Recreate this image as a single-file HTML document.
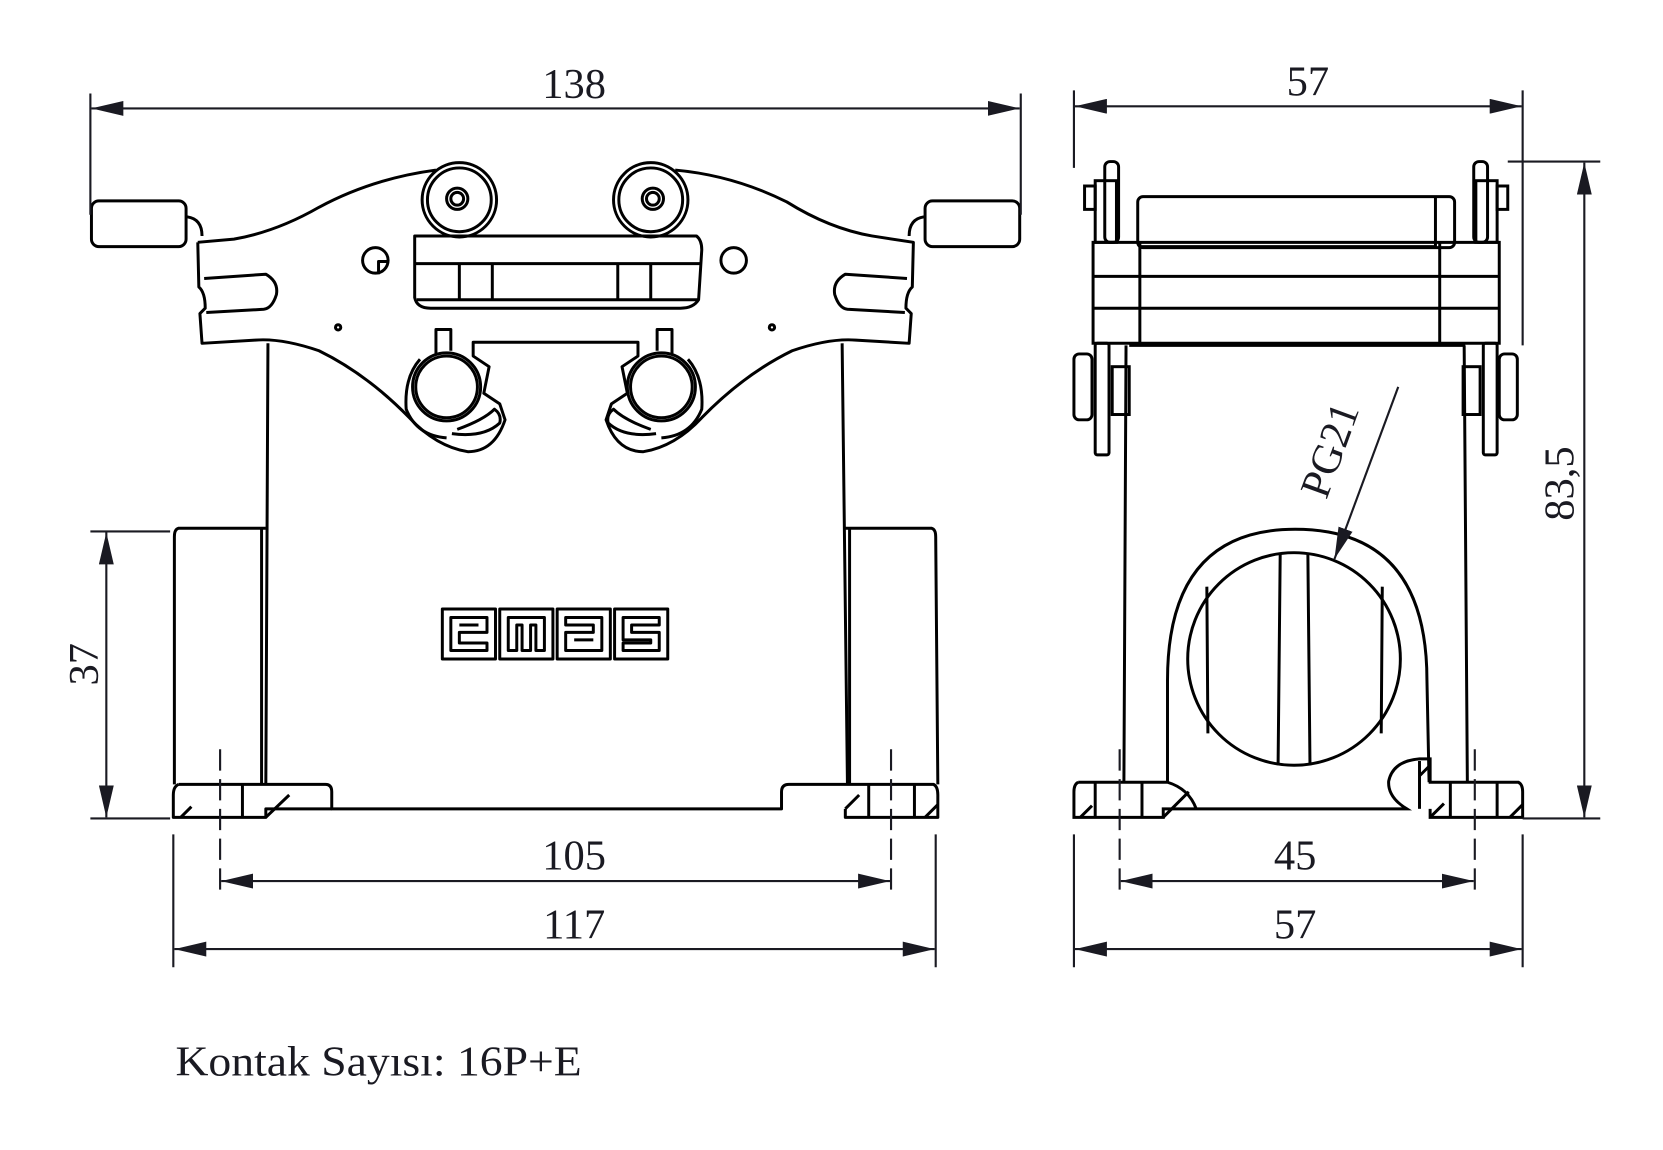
<!DOCTYPE html>
<html><head><meta charset="utf-8"><style>
html,body{margin:0;padding:0;background:#fff;}
svg{display:block;}
text{font-family:"Liberation Serif",serif;fill:#1a1a22;}
</style></head><body>
<svg width="1663" height="1150" viewBox="0 0 1564 1082" preserveAspectRatio="none" xmlns="http://www.w3.org/2000/svg">
<defs>
<marker id="a" viewBox="0 0 30 14" refX="30" refY="7" markerWidth="30" markerHeight="14" markerUnits="userSpaceOnUse" orient="auto-start-reverse" preserveAspectRatio="none"><path d="M0,0 L30,7 L0,14 Z" fill="#1a1a22"/></marker>
</defs>
<g fill="none" stroke="#000" stroke-width="2.8" stroke-linejoin="round">
<!-- ===== LEFT VIEW ===== -->
<rect x="86" y="189" width="89" height="43" rx="7"/>
<rect x="870" y="189" width="89" height="43" rx="7"/>
<path d="M176,204 Q190,206 190,222 M869,204 Q855,206 855,222"/>
<path d="M186,228 L187,270 Q193,275 193,290 L188,295 L190,323 L240,320 Q265,318 300,330 Q345,352 385,393 Q410,420 440,425 Q465,425 475,395 L470,380 L455,370 L460,345 L445,335 L445,322 L600,322 L600,335 L585,345 L590,370 L575,380 L570,395 Q580,425 605,425 Q635,420 660,393 Q700,352 745,330 Q780,318 805,320 L855,323 L857,295 L852,290 Q852,275 858,270 L859,228 L820,222 Q780,215 740,190 Q690,165 635,160"/>
<path d="M186,228 L220,225 Q260,218 300,195 Q350,168 410,160"/>
<path d="M192,262 L250,258 Q262,265 260,277 Q256,290 248,291 L194,294"/>
<path d="M853,262 L795,258 Q783,265 785,277 Q789,290 797,291 L851,294"/>
<circle cx="432" cy="188" r="35"/><circle cx="432" cy="188" r="30"/><circle cx="430" cy="187" r="10"/><circle cx="430" cy="187" r="6"/>
<circle cx="612" cy="188" r="35"/><circle cx="612" cy="188" r="30"/><circle cx="614" cy="187" r="10"/><circle cx="614" cy="187" r="6"/>
<path d="M390,222 L655,222 Q660,226 660,235 L657,282 Q652,290 640,290 L405,290 Q392,290 390,280 Z"/>
<line x1="390" y1="248" x2="660" y2="248"/><line x1="392" y1="282" x2="657" y2="282"/>
<line x1="432" y1="248" x2="432" y2="282"/><line x1="463" y1="248" x2="463" y2="282"/>
<line x1="581" y1="248" x2="581" y2="282"/><line x1="612" y1="248" x2="612" y2="282"/>
<circle cx="353" cy="245" r="12"/><path d="M356,258 L356,246 L364,246"/>
<circle cx="690" cy="245" r="12"/>
<circle cx="318" cy="308" r="2.5"/><circle cx="726" cy="308" r="2.5"/>
<circle cx="420" cy="364" r="32"/><circle cx="420" cy="364" r="29"/>
<circle cx="622" cy="364" r="32"/><circle cx="622" cy="364" r="29"/>
<path d="M410,333 L410,310 L424,310 L424,330 M632,333 L632,310 L618,310 L618,330"/>
<path d="M430,404 Q455,395 465,385 Q472,390 470,398 Q455,412 425,408 M612,404 Q587,395 577,385 Q570,390 572,398 Q587,412 617,408"/>
<path d="M395,338 Q380,355 382,385 Q392,410 420,412 M647,338 Q662,355 660,385 Q650,410 622,412"/>
<path d="M252,323 L250,738 M792,323 L797,738"/>
<path d="M250,497 L168,497 Q164,498 164,505 L164,738"/>
<path d="M795,497 L876,497 Q880,498 880,505 L882,738"/>
<path d="M246,497 L246,738 M799,497 L799,738"/>
<path d="M168,738 L306,738 Q312,738 312,745 L312,761 L735,761 L735,745 Q735,738 742,738 L878,738 Q882,740 882,748 L882,769 L795,769 L795,761"/>
<path d="M168,738 Q163,740 163,748 L163,769 L250,769 L250,761 L312,761"/>
<line x1="228" y1="738" x2="228" y2="769"/><line x1="817" y1="738" x2="817" y2="769"/><line x1="860" y1="738" x2="860" y2="769"/>
<path d="M170,769 L180,759 M250,769 L272,748 M795,761 L808,748 M870,769 L882,757"/>
<rect x="416" y="573" width="50" height="47"/><rect x="470" y="573" width="50" height="47"/><rect x="524" y="573" width="50" height="47"/><rect x="578" y="573" width="50" height="47"/>
<path d="M424,581 h34 v14 h-26 v10 h26 v7 h-34 Z M432,588 h18 v0"/>
<path d="M478,581 h34 v31 h-8 v-24 h-5 v24 h-8 v-24 h-5 v24 h-8 Z"/>
<path d="M532,581 h34 v31 h-34 v-17 h26 v-7 h-26 Z M540,602 h18"/>
<path d="M586,581 h34 v7 h-26 v7 h26 v17 h-34 v-7 h26 v-3 h-26 Z"/>
</g>
<g fill="none" stroke="#000" stroke-width="2.8">
<rect x="1070" y="185" width="298" height="48" rx="5"/>
<path d="M1350,185 L1350,233 M1072,232 L1350,232"/>
<path d="M1028,228 L1410,228 L1410,323 L1028,323 Z"/>
<line x1="1028" y1="260" x2="1410" y2="260"/><line x1="1028" y1="290" x2="1410" y2="290"/>
<line x1="1072" y1="228" x2="1072" y2="322"/><line x1="1354" y1="228" x2="1354" y2="322"/>
<rect x="1030" y="170" width="20" height="58"/><rect x="1039" y="152" width="13" height="76" rx="5"/><rect x="1020" y="175" width="10" height="22"/>
<rect x="1388" y="170" width="20" height="58"/><rect x="1386" y="152" width="13" height="76" rx="5"/><rect x="1408" y="175" width="10" height="22"/>
<rect x="1030" y="323" width="13" height="105" rx="2"/><rect x="1010" y="333" width="17" height="62" rx="5"/><rect x="1046" y="345" width="16" height="45"/>
<rect x="1395" y="323" width="13" height="105" rx="2"/><rect x="1410" y="333" width="17" height="62" rx="5"/><rect x="1376" y="345" width="16" height="45"/>
<path d="M1062,325 L1378,325 M1059,325 L1057,736 M1377,325 L1380,736"/>
<path d="M1098,736 L1098,640 Q1098,498 1218,498 Q1342,498 1342,640 L1344,736"/>
<circle cx="1217" cy="620" r="100"/>
<path d="M1135,552 L1136,690 M1300,552 L1299,690 M1204,520 L1202,720 M1230,520 L1232,720"/>
<path d="M1014,736 L1098,736 Q1118,742 1125,761 L1323,761 Q1305,750 1306,735 Q1310,716 1335,714 L1345,714 L1345,736 L1428,736 Q1432,738 1432,745 L1432,769 L1345,769 L1345,761 M1014,736 Q1010,738 1010,745 L1010,769 L1094,769 L1094,761 L1125,761"/>
<line x1="1030" y1="736" x2="1030" y2="769"/><line x1="1074" y1="736" x2="1074" y2="769"/>
<line x1="1364" y1="736" x2="1364" y2="769"/><line x1="1408" y1="736" x2="1408" y2="769"/>
<line x1="1335" y1="716" x2="1335" y2="761"/>
<path d="M1016,769 L1027,758 M1094,769 L1118,745 M1345,769 L1358,756 M1420,769 L1432,757 M1335,730 L1345,720"/>
</g>
<g fill="none" stroke="#1a1a22" stroke-width="2">
<path d="M85,88 L85,202 M960,88 L960,202 M1010,85 L1010,158 M1432,85 L1432,325"/>
<path d="M85,500 L160,500 M85,770 L160,770 M1418,152 L1505,152 M1432,770 L1505,770"/>
<path d="M163,785 L163,910 M880,785 L880,910 M1010,785 L1010,910 M1432,785 L1432,910"/>
<path d="M207,705 L207,845 M838,705 L838,845 M1053,705 L1053,845 M1387,705 L1387,845" stroke-dasharray="20,8"/>
<line x1="86" y1="102" x2="959" y2="102" marker-start="url(#a)" marker-end="url(#a)"/>
<line x1="1011" y1="100" x2="1431" y2="100" marker-start="url(#a)" marker-end="url(#a)"/>
<line x1="100" y1="501" x2="100" y2="769" marker-start="url(#a)" marker-end="url(#a)"/>
<line x1="1490" y1="153" x2="1490" y2="769" marker-start="url(#a)" marker-end="url(#a)"/>
<line x1="208" y1="829" x2="837" y2="829" marker-start="url(#a)" marker-end="url(#a)"/>
<line x1="164" y1="893" x2="879" y2="893" marker-start="url(#a)" marker-end="url(#a)"/>
<line x1="1054" y1="829" x2="1386" y2="829" marker-start="url(#a)" marker-end="url(#a)"/>
<line x1="1011" y1="893" x2="1431" y2="893" marker-start="url(#a)" marker-end="url(#a)"/>
<line x1="1315" y1="364" x2="1255" y2="526" marker-end="url(#a)"/>
</g>
<g font-size="40" text-anchor="middle">
<text x="540" y="92">138</text>
<text x="1230" y="90">57</text>
<text x="540" y="818">105</text>
<text x="540" y="883">117</text>
<text x="1218" y="818">45</text>
<text x="1218" y="883">57</text>
<text transform="translate(92,625) rotate(-90)">37</text>
<text transform="translate(1480,455) rotate(-90)">83,5</text>
<text transform="translate(1263,428) rotate(-70)">PG21</text>
</g>
<text x="165" y="1012" font-size="40" textLength="382" lengthAdjust="spacingAndGlyphs">Kontak Sayısı: 16P+E</text>
</svg>
</body></html>
